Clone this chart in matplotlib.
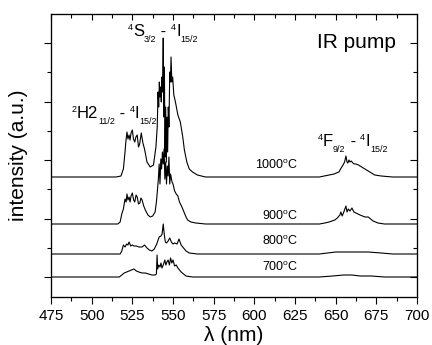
import matplotlib
matplotlib.use("Agg")
import matplotlib.pyplot as plt
from matplotlib.ticker import MultipleLocator, NullFormatter

plt.rcParams['font.family'] = ['Liberation Sans', 'DejaVu Sans']

# ---- data (intensity in a.u., one major y tick = 58.5 a.u.) ----
labels = ['700', '800', '900', '1000']
offsets = [0, 23, 53, 100]

wl_700 = [475, 517, 518.5, 520, 521.5, 523, 524.5, 526, 527.5, 529, 531, 533, 535, 537, 539,
          539.8, 540.2, 540.6, 541.2, 542, 542.6, 543.2, 544, 545, 545.6, 546.3, 547, 547.8,
          548.5, 549.3, 550, 551, 552, 553, 554, 555, 556.5, 558, 562, 640, 648, 655, 660,
          665, 672, 680, 700]
in_700 = [0, 0, 2, 4, 5, 6, 7, 8, 6, 5, 4, 4, 3, 2, 2,
          3, 22, 8, 12, 10, 14, 9, 12, 17, 12, 15, 17, 12,
          19, 14, 17, 11, 12, 9, 7, 5, 3, 1, 0, 0, 1, 2, 2,
          1, 1, 0, 0]

wl_800 = [475, 517.5, 518.5, 519.5, 520.5, 521.5, 522.3, 523, 524, 525, 526, 527.5, 529, 531,
          532.5, 534, 535.5, 537, 538.5, 540, 541.5, 542.6, 543.3, 544, 544.6, 545.3, 546, 547,
          548, 549, 550, 551, 552.5, 553.7, 555, 556.5, 558, 560, 565, 640, 645, 650, 660,
          670, 678, 685, 700]
in_800 = [0, 0, 3, 9, 7, 10, 9, 12, 8, 9, 8, 8, 7, 7,
          9, 6, 4, 3, 5, 10, 17, 18, 20, 30, 20, 12, 11, 13,
          16, 12, 10, 11, 10, 15, 9, 6, 3, 1, 0, 0, 1, 2, 2,
          2, 1, 0, 0]

wl_900 = [475, 516, 517.5, 518.5, 519.5, 520.5, 521.2, 521.7, 522.3, 523, 523.6, 524.2, 525,
          525.8, 526.5, 527.3, 528, 528.8, 529.6, 530.3, 531, 532, 533, 534.6, 536, 537.5,
          539, 539.8, 540.5, 541, 541.5, 542, 542.5, 543, 543.5, 544, 544.5, 545, 545.5, 546,
          546.5, 547, 547.5, 548, 548.5, 549.4, 550, 551, 552, 553, 554, 555.5, 557, 558, 559,
          561, 564, 570, 640, 643.4, 646, 649.5, 651, 652.6, 653.2, 654, 655, 656.3, 657,
          657.8, 658.8, 660, 661.2, 662.5, 663.7, 665, 666.5, 668, 670, 671.5, 673, 676, 680,
          700]
in_900 = [0, 0, 2, 10, 15, 25, 22, 30, 24, 27, 22, 28, 31,
          24, 22, 29, 27, 20, 21, 26, 24, 18, 14, 9, 7, 8,
          12, 22, 35, 45, 60, 40, 65, 55, 72, 60, 75, 45, 62, 40,
          58, 48, 67, 40, 50, 42, 40, 33, 30, 28, 22, 17, 11, 7, 4,
          2, 1, 0, 0, 1, 2, 4, 6, 9, 12, 8, 12, 18, 12,
          15, 13, 16, 12, 11, 10, 9, 8, 7, 7, 5, 3, 1, 0,
          0]

wl_1000 = [475, 515, 518, 519.5, 520.5, 521, 521.7, 522.3, 523, 523.6, 524.2, 525, 525.7,
           526.5, 527.2, 528, 528.8, 529.5, 530.5, 531.5, 532.5, 534, 536, 538, 539.5, 540.3,
           540.8, 541.2, 541.6, 542, 542.4, 542.8, 543.2, 543.6, 544, 544.3, 544.7, 545.1,
           545.5, 545.9, 546.3, 546.7, 547.1, 547.5, 548, 548.4, 548.8, 549.3, 549.8, 550.5,
           551.5, 553, 554.5, 556, 557, 558.5, 560, 562, 565, 570, 640, 643, 646, 649, 652,
           653, 654.5, 655.5, 656.3, 657, 657.5, 658.2, 658.8, 659.6, 660.6, 661.5, 662.5,
           664, 666, 668, 671, 674, 678, 685, 700]
in_1000 = [0, 0, 1, 8, 25, 35, 45, 38, 42, 37, 44, 47, 38,
           35, 40, 42, 30, 33, 44, 34, 28, 15, 10, 12, 30, 50,
           85, 70, 95, 80, 90, 75, 100, 85, 139, 60, 110, 20,
           70, 15, 60, 25, 70, 50, 105, 95, 120, 95, 100, 82,
           75, 62, 55, 40, 27, 15, 8, 5, 2, 0, 0, 1, 2, 3, 5,
           8, 12, 15, 21, 15, 14, 17, 15, 16, 14, 13, 13,
           12, 10, 8, 5, 2, 1, 0, 0]

wls = [wl_700, wl_800, wl_900, wl_1000]
ints = [in_700, in_800, in_900, in_1000]

xticks = [475, 500, 525, 550, 575, 600, 625, 650, 675, 700]

# ---- figure ----
fig = plt.figure(figsize=(4.32, 3.45), dpi=100)
ax = fig.add_axes([51/432, 48/345, 366/432, 283/345])

for wl, it, off in zip(wls, ints, offsets):
    ax.plot(wl, [v + off for v in it], color='black', lw=0.8)

XLIM = (475, 700)
YLIM = (-20, 263)
ax.set_xlim(*XLIM)
ax.set_ylim(*YLIM)
ax.set_xticks(xticks)
ax.xaxis.set_minor_locator(MultipleLocator(12.5))
ax.yaxis.set_major_locator(MultipleLocator(58.5))
ax.yaxis.set_minor_locator(MultipleLocator(29.25))
ax.yaxis.set_major_formatter(NullFormatter())
ax.tick_params(axis='both', which='major', direction='out', length=5, width=0.8, labelsize=11)
ax.tick_params(axis='both', which='minor', direction='out', length=3, width=0.8)

# top ticks (inward)
axt = ax.twiny()
axt.set_xlim(*XLIM)
axt.set_xticks(xticks)
axt.xaxis.set_minor_locator(MultipleLocator(12.5))
axt.tick_params(axis='x', which='both', direction='in', top=True, bottom=False,
                labeltop=False, labelbottom=False, width=0.8, color='black')
axt.tick_params(axis='x', which='major', length=4)
axt.tick_params(axis='x', which='minor', length=3)

# right ticks (inward)
axr = ax.twinx()
axr.set_ylim(*YLIM)
axr.yaxis.set_major_locator(MultipleLocator(58.5))
axr.yaxis.set_minor_locator(MultipleLocator(29.25))
axr.tick_params(axis='y', which='both', direction='in', right=True, left=False,
                labelright=False, labelleft=False, width=0.8, color='black')
axr.tick_params(axis='y', which='major', length=5)
axr.tick_params(axis='y', which='minor', length=3)

ax.set_xlabel('λ (nm)', fontsize=15, labelpad=2)
ax.set_ylabel('intensity (a.u.)', fontsize=15, labelpad=8)

renderer = fig.canvas.get_renderer()


def rich(x, y, pieces, align_right=False):
    """Draw sequential text pieces (text, size, rise_pt) from data (x, y) on one baseline."""
    widths = []
    for txt, size, rise in pieces:
        t = ax.text(0, 0, txt, fontsize=size)
        widths.append(t.get_window_extent(renderer).width * 72.0 / fig.dpi)
        t.remove()
    dx = -sum(widths) if align_right else 0.0
    for (txt, size, rise), w in zip(pieces, widths):
        ax.annotate(txt, xy=(x, y), xycoords='data', xytext=(dx, rise),
                    textcoords='offset points', fontsize=size,
                    ha='left', va='baseline')
        dx += w


# temperature labels (baseline positions)
temp_base = [7, 33, 58, 109]
for lab, yb in zip(labels, temp_base):
    rich(626, yb, [(lab, 9, 0), ('o', 6, 3.5), ('C', 9, 0)], align_right=True)

MAIN, SMALL, UP, DOWN = 12, 6.5, 4.5, -4.0
rich(522.3, 241, [('4', SMALL, UP), ('S', MAIN, 0), ('3/2', SMALL, DOWN), (' - ', MAIN, 0),
                  ('4', SMALL, UP), ('I', MAIN, 0), ('15/2', SMALL, DOWN)])
rich(487.9, 159, [('2', SMALL, UP), ('H2', MAIN, 0), ('11/2', SMALL, DOWN), (' - ', MAIN, 0),
                  ('4', SMALL, UP), ('I', MAIN, 0), ('15/2', SMALL, DOWN)])
rich(639.1, 131, [('4', SMALL, UP), ('F', MAIN, 0), ('9/2', SMALL, DOWN), (' - ', MAIN, 0),
                  ('4', SMALL, UP), ('I', MAIN, 0), ('15/2', SMALL, DOWN)])

ax.text(662.5, 229, 'IR pump', fontsize=15, ha='center', va='baseline')

fig.savefig('out.png', dpi=100)
